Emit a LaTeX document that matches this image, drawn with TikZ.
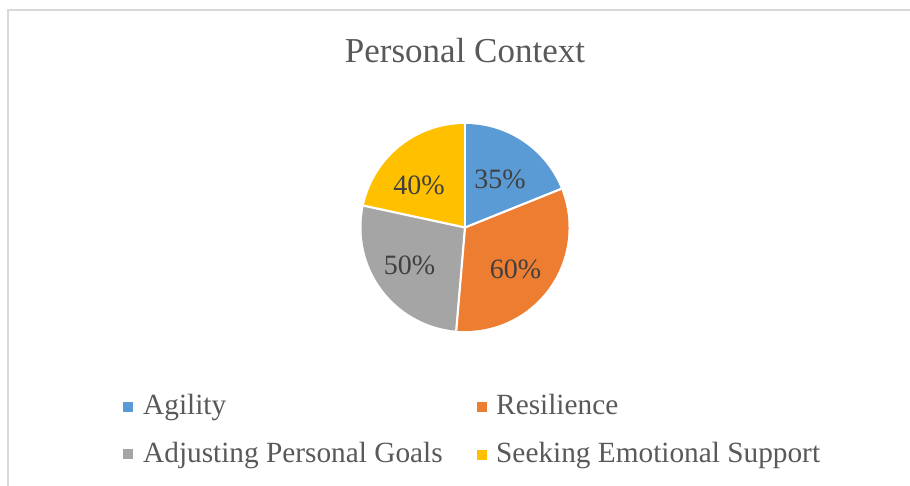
\documentclass[tikz,border=0pt]{standalone}
\usepackage{fontspec}
\setmainfont{Liberation Serif}
\definecolor{cAgility}{HTML}{5B9BD5}
\definecolor{cResil}{HTML}{ED7D31}
\definecolor{cAdjust}{HTML}{A5A5A5}
\definecolor{cSeek}{HTML}{FFC000}
\definecolor{txtgray}{HTML}{595959}
\definecolor{lblgray}{HTML}{404040}
\definecolor{framegray}{HTML}{D9D9D9}
\tikzset{
  slice/.style={draw=white, line width=2.2pt, line join=round},
  pielabel/.style={anchor=base, inner sep=0pt, text=lblgray, font=\fontsize{28}{32}\selectfont},
  legtext/.style={anchor=base west, inner sep=0pt, text=txtgray, font=\fontsize{29.3}{33}\selectfont},
  legkey/.style={minimum size=10pt, inner sep=0pt, draw=none},
  titletext/.style={anchor=base, inner sep=0pt, text=txtgray, font=\fontsize{35}{40}\selectfont},
}
\begin{document}
\begin{tikzpicture}[x=1pt,y=1pt]
\useasboundingbox (0,0) rectangle (910,-485);
\fill[white] (0,0) rectangle (910,-485);
% chart frame
\draw[framegray, line width=1.5pt] (8,-486) -- (8,-10) -- (911,-10);
% title
\node[titletext] (title) at (465,-62) {Personal Context};
% pie
\def\R{103.5}
\coordinate (c) at (465,-227.5);
\fill[cAgility] (c) -- ++(90:\R) arc[start angle=90, end angle=21.892, radius=\R] -- cycle;
\fill[cResil] (c) -- ++(21.892:\R) arc[start angle=21.892, end angle=-94.865, radius=\R] -- cycle;
\fill[cAdjust] (c) -- ++(-94.865:\R) arc[start angle=-94.865, end angle=-192.162, radius=\R] -- cycle;
\fill[cSeek] (c) -- ++(-192.162:\R) arc[start angle=-192.162, end angle=-270, radius=\R] -- cycle;
\draw[slice] (c) -- ++(90:\R);
\draw[slice] (c) -- ++(21.892:\R);
\draw[slice] (c) -- ++(-94.865:\R);
\draw[slice] (c) -- ++(-192.162:\R);
% labels
\node[pielabel] (l35) at (500,-188) {35\%};
\node[pielabel] (l60) at (515.5,-278) {60\%};
\node[pielabel] (l50) at (409.5,-274.5) {50\%};
\node[pielabel] (l40) at (419,-194) {40\%};
% legend
\node[legkey, fill=cAgility] (kA) at (128,-406.5) {};
\node[legtext] (tA) at (143,-414) {Agility};
\node[legkey, fill=cResil] (kR) at (481.5,-406.5) {};
\node[legtext] (tR) at (496,-414) {Resilience};
\node[legkey, fill=cAdjust] (kG) at (128,-454) {};
\node[legtext] (tG) at (143,-462) {Adjusting Personal Goals};
\node[legkey, fill=cSeek] (kS) at (481.5,-454.5) {};
\node[legtext] (tS) at (496,-462) {Seeking Emotional Support};
\end{tikzpicture}
\end{document}
